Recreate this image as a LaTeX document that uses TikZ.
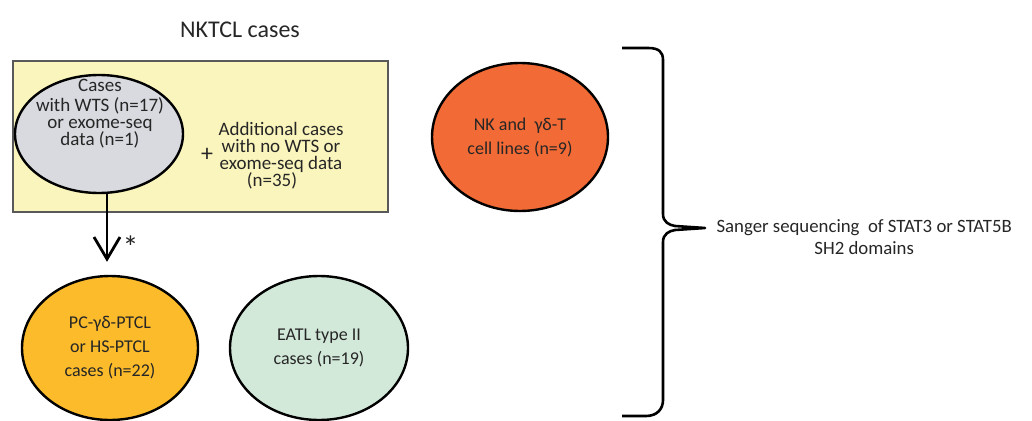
\documentclass[tikz,border=0pt]{standalone}
\usepackage{fontspec}
\setmainfont{Carlito}
\usetikzlibrary{shapes.geometric,arrows.meta}

\definecolor{boxyellow}{HTML}{FAF5BC}
\definecolor{casegray}{HTML}{D8DADF}
\definecolor{cellred}{HTML}{F26A35}
\definecolor{ptclorange}{HTML}{FBBB2A}
\definecolor{eatlgreen}{HTML}{D2E9D9}
\definecolor{txtgray}{HTML}{262626}

\begin{document}
\begin{tikzpicture}
  [x=1pt,y=-1pt,
   every node/.style={text=txtgray,align=center},
   blob/.style={ellipse,draw=black,line width=2.4pt,inner sep=0pt},
   smalltxt/.style={font=\fontsize{19}{17}\selectfont},
   bigtxt/.style={font=\fontsize{18}{24}\selectfont}]
  \useasboundingbox (0,0) rectangle (1032,420);

  % NKTCL box
  \node[font=\fontsize{24}{26}\selectfont] (title) at (240,30) {NKTCL cases};
  \node[draw=black!65,fill=boxyellow,line width=2.6pt,minimum width=375pt,
        minimum height=151pt,inner sep=0pt] (box) at (200.5,136.5) {};

  \node[blob,fill=casegray,minimum width=168pt,minimum height=118pt] (wts) at (99,134) {};
  \node[smalltxt] (wtstxt) at (100,114) {Cases\\[3pt]with WTS (n=17)\\or exome-seq\\data (n=1)};
  \node[font=\fontsize{24}{24}\selectfont] (plus) at (207,155) {+};
  \node[smalltxt] (extra) at (281,156) {Additional cases\\with no WTS or\\exome-seq data\\\hspace*{-18pt}(n=35)};

  % other case groups
  \node[blob,fill=cellred,minimum width=176pt,minimum height=148pt,font=\fontsize{18}{24}\selectfont] (lines) at (520,137)
    {NK and \ γδ-T\\cell lines (n=9)};
  \node[blob,fill=ptclorange,minimum width=176pt,minimum height=144pt,bigtxt] (ptcl) at (110,348)
    {PC-γδ-PTCL\\or HS-PTCL\\cases (n=22)};
  \node[blob,fill=eatlgreen,minimum width=178pt,minimum height=144pt,bigtxt] (eatl) at (319,348)
    {EATL type II\\cases (n=19)};

  \draw[line width=2.8pt,-{Straight Barb[length=22pt,width=26pt,line width=2.8pt]},shorten >=13pt]
    (wts.south -| 107,0) -- (ptcl.north -| 107,0) node[pos=0.66,right=11pt,font=\fontsize{32}{32}\selectfont] (star) {*};

  % brace
  \coordinate (bracetop) at (622,48);
  \coordinate (bracetip) at (705,228);
  \coordinate (bracebot) at (622,416);
  \draw[line width=2.6pt,line join=round]
    (bracetop) -- ++(26,0) .. controls ++(11,0) and ++(0,-8) .. ++(15,12)
    -- (663,214) .. controls ++(0,8) and ++(-6,-1) .. (675,226) -- (bracetip)
    -- (675,230) .. controls ++(-6,1) and ++(0,-8) .. (663,242)
    -- (663,400) .. controls ++(0,9) and ++(11,0) .. (646,416) -- (bracebot);
  \node[anchor=west,font=\fontsize{18.8}{22}\selectfont] (sanger) at ([xshift=8pt,yshift=-9pt]bracetip)
    {Sanger sequencing \ of STAT3 or STAT5B\\SH2 domains};
\end{tikzpicture}
\end{document}
